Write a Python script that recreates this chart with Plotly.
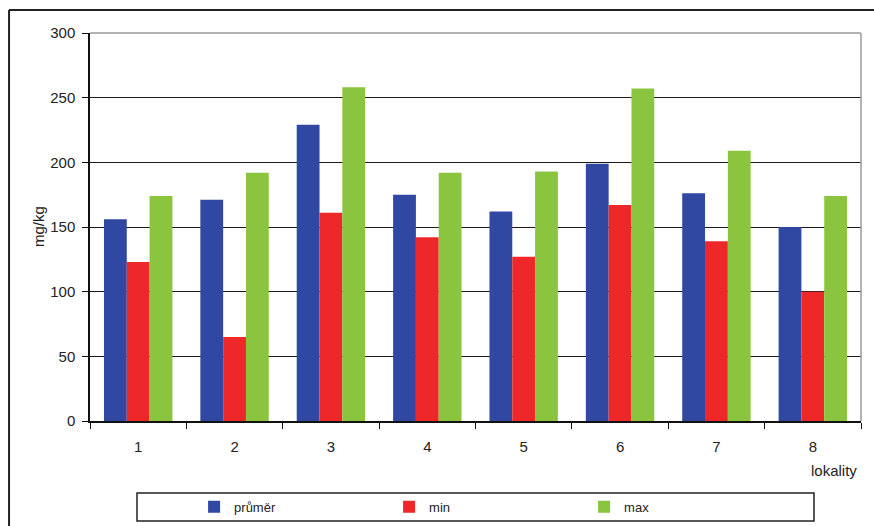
import plotly.graph_objects as go

# Concentrations per locality (mg/kg)
lokality = ["1", "2", "3", "4", "5", "6", "7", "8"]
prumer = [156, 171, 229, 175, 162, 199, 176, 150]
minimum = [123, 65, 161, 142, 127, 167, 139, 100]
maximum = [174, 192, 258, 192, 193, 257, 209, 174]

series = [
    ("průměr", prumer, "#3048A2"),
    ("min", minimum, "#EE2828"),
    ("max", maximum, "#8BC43E"),
]

FONT = "Liberation Sans, Arial, sans-serif"

fig = go.Figure()
for name, vals, col in series:
    fig.add_trace(go.Bar(
        x=lokality, y=vals, name=name,
        marker=dict(color=col, line=dict(width=0)),
    ))

fig.update_layout(
    width=874, height=526,
    margin=dict(l=90, r=13, t=33, b=105, autoexpand=False),
    paper_bgcolor="white", plot_bgcolor="white",
    barmode="group", bargap=0.29, bargroupgap=0,
    font=dict(family=FONT, size=15, color="#222"),
    showlegend=True,
    legend=dict(
        orientation="h", x=0.135, xanchor="left", y=-0.221, yanchor="middle",
        bgcolor="rgba(0,0,0,0)", borderwidth=0,
        entrywidth=150, font=dict(size=13, family=FONT),
        itemclick=False,
    ),
    xaxis=dict(
        type="category", showgrid=False, showline=True, linecolor="#111",
        linewidth=1.5, ticks="outside", tickson="boundaries", ticklen=6,
        tickcolor="#111", ticklabelstandoff=11, automargin=False,
        tickfont=dict(size=15, family=FONT),
    ),
    yaxis=dict(
        range=[0, 300], dtick=50, showgrid=True, gridcolor="#1a1a1a",
        gridwidth=1.4, showline=True, linecolor="#111", linewidth=1.5,
        ticks="outside", ticklen=6, tickcolor="#111", ticklabelstandoff=4,
        automargin=False,
        tickfont=dict(size=15, family=FONT), zeroline=False,
    ),
    shapes=[
        # plot area frame (top and right edges)
        dict(type="line", xref="paper", yref="paper", x0=0, x1=1, y0=1, y1=1,
             line=dict(color="#9a9a9a", width=1.5)),
        dict(type="line", xref="paper", yref="paper", x0=1, x1=1, y0=0, y1=1,
             line=dict(color="#9a9a9a", width=1.5)),
        # outer chart frame
        dict(type="line", xref="paper", yref="paper", x0=-0.105, x1=1.03,
             y0=1.0593, y1=1.0593, line=dict(color="#222", width=2)),
        dict(type="line", xref="paper", yref="paper", x0=-0.105, x1=-0.105,
             y0=1.0593, y1=-0.3, line=dict(color="#222", width=2)),
        # legend box
        dict(type="rect", xref="paper", yref="paper",
             x0=(137 - 90) / 771, x1=(814 - 90) / 771,
             y0=(421 - 521) / 388, y1=(421 - 493) / 388,
             line=dict(color="#222", width=1.5), fillcolor="rgba(0,0,0,0)"),
    ],
    annotations=[
        dict(text="mg/kg", xref="paper", yref="paper",
             x=(38 - 90) / 771, y=0.5, textangle=-90, showarrow=False,
             xanchor="center", yanchor="middle", font=dict(size=15, family=FONT)),
        dict(text="lokality", xref="paper", yref="paper",
             x=(859 - 90) / 771, y=(421 - 470) / 388, showarrow=False,
             xanchor="right", yanchor="middle", font=dict(size=15, family=FONT)),
    ],
)

fig.write_html("out.html")
